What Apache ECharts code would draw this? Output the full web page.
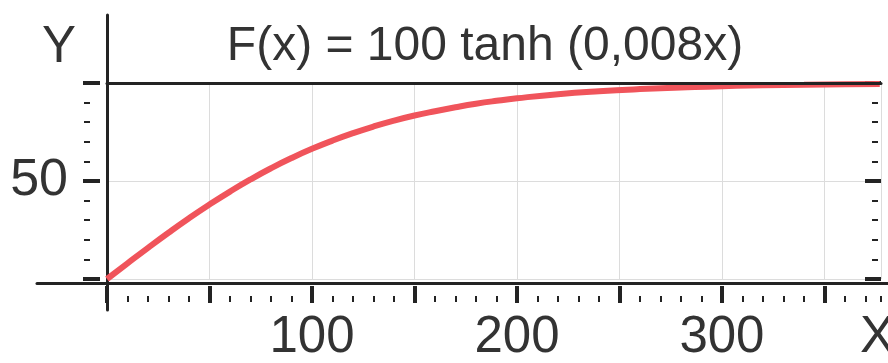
<!DOCTYPE html>
<html>
<head>
<meta charset="utf-8">
<script src="https://cdn.jsdelivr.net/npm/echarts@6/dist/echarts.min.js"></script>
<style>
html,body{margin:0;padding:0;background:#fff;}
#chart{width:888px;height:363px;}
</style>
</head>
<body>
<div id="chart"></div>
<script>
// Data
const xValues = [0,10,20,30,40,50,60,70,80,90,100,110,120,130,140,150,160,170,180,190,200,220,240,260,280,300,320,340,360,377];
const yValues = [0,8.0,15.9,23.6,31.0,38.0,44.6,50.8,56.5,61.7,66.4,70.6,74.4,77.8,80.8,83.4,85.6,87.6,89.4,90.9,92.2,94.3,95.8,96.9,97.7,98.4,98.8,99.1,99.4,99.5];
const xLabels = [100, 200, 300];
const yLabels = [50];
const titleText = 'F(x) = 100 tanh (0,008x)';
const xName = 'X';
const yName = 'Y';

const X_MIN = 0, X_MAX = 377.6, Y_MIN = 0, Y_MAX = 100;
const FONT = 'Liberation Sans, Arial, sans-serif';
const TEXT = '#333';
const LINE = '#232323';

const chart = echarts.init(document.getElementById('chart'), null, {renderer: 'canvas'});
const hidden = {show:false};
const noLine = {show:false, onZero:false};

const option = {
  animation: false,
  backgroundColor: '#fff',
  title: [
    {text: titleText, left: 480, top: 18, textAlign: 'center',
     textStyle: {fontFamily: FONT, fontSize: 48, fontWeight: 'normal', color: TEXT}},
    {text: yName, left: 37, top: 17,
     textStyle: {fontFamily: FONT, fontSize: 51, fontWeight: 'normal', color: TEXT}},
    {text: xName, left: 855, top: 307,
     textStyle: {fontFamily: FONT, fontSize: 52, fontWeight: 'normal', color: TEXT}}
  ],
  grid: [
    {left: 107, top: 83, width: 774, height: 200},
    {left: 107, top: 15, width: 10, height: 295},
    {left: 37, top: 273, width: 851, height: 10}
  ],
  xAxis: [
    { // major ticks, labels, vertical grid
      gridIndex: 0, type: 'value', min: X_MIN, max: X_MAX, interval: 50, position: 'bottom', offset: 7,
      axisLine: noLine,
      axisTick: {show: true, length: 17, lineStyle: {color: LINE, width: 4}},
      axisLabel: {show: true, margin: 26, fontFamily: FONT, fontSize: 51, color: TEXT,
        showMaxLabel: false,
        formatter: v => (xLabels.indexOf(v) >= 0 ? String(v) : '')},
      splitLine: {show: true, lineStyle: {color: '#dcdcdc', width: 1}}
    },
    { // minor ticks
      gridIndex: 0, type: 'value', min: X_MIN, max: X_MAX, interval: 10, position: 'bottom', offset: 17,
      axisLine: noLine,
      axisTick: {show: true, length: 6, lineStyle: {color: LINE, width: 2}},
      axisLabel: hidden, splitLine: hidden
    },
    { // top line at y = 100
      gridIndex: 0, type: 'value', min: X_MIN, max: X_MAX, position: 'top', z: 10,
      axisLine: {show: true, onZero: false, lineStyle: {color: LINE, width: 3}},
      axisTick: hidden, axisLabel: hidden, splitLine: hidden
    },
    { gridIndex: 1, type: 'value', show: false },
    { // long x axis line
      gridIndex: 2, type: 'value', min: 0, max: 1, position: 'bottom', z: 1,
      axisLine: {show: true, onZero: false, lineStyle: {color: LINE, width: 3}},
      axisTick: hidden, axisLabel: hidden, splitLine: hidden
    }
  ],
  yAxis: [
    { // left major ticks + labels + horizontal grid
      gridIndex: 0, type: 'value', min: Y_MIN, max: Y_MAX, interval: 50, position: 'left', offset: 7,
      axisLine: noLine,
      axisTick: {show: true, length: 17, lineStyle: {color: LINE, width: 4}},
      axisLabel: {show: true, margin: 32, fontFamily: FONT, fontSize: 52, color: TEXT,
        formatter: v => (yLabels.indexOf(v) >= 0 ? String(v) : '')},
      splitLine: {show: true, lineStyle: {color: '#dcdcdc', width: 1}}
    },
    { // left minor ticks
      gridIndex: 0, type: 'value', min: Y_MIN, max: Y_MAX, interval: 10, position: 'left', offset: 17,
      axisLine: noLine,
      axisTick: {show: true, length: 6, lineStyle: {color: LINE, width: 2}},
      axisLabel: hidden, splitLine: hidden
    },
    { // right major ticks
      gridIndex: 0, type: 'value', min: Y_MIN, max: Y_MAX, interval: 50, position: 'right', offset: 0,
      axisLine: noLine,
      axisTick: {show: true, inside: true, length: 16, lineStyle: {color: LINE, width: 4}},
      axisLabel: hidden, splitLine: hidden
    },
    { // right minor ticks
      gridIndex: 0, type: 'value', min: Y_MIN, max: Y_MAX, interval: 10, position: 'right', offset: -3,
      axisLine: noLine,
      axisTick: {show: true, inside: true, length: 6, lineStyle: {color: LINE, width: 2}},
      axisLabel: hidden, splitLine: hidden
    },
    { // long y axis line
      gridIndex: 1, type: 'value', min: 0, max: 1, position: 'left', z: 1,
      axisLine: {show: true, onZero: false, lineStyle: {color: LINE, width: 3}},
      axisTick: hidden, axisLabel: hidden, splitLine: hidden
    },
    { gridIndex: 2, type: 'value', show: false }
  ],
  series: [{
    type: 'line',
    xAxisIndex: 0, yAxisIndex: 0,
    data: xValues.map((x, i) => [x, yValues[i]]),
    smooth: true,
    showSymbol: false,
    clip: false,
    z: 3,
    lineStyle: {color: '#f0545b', width: 6}
  }]
};
chart.setOption(option);
</script>
</body>
</html>
